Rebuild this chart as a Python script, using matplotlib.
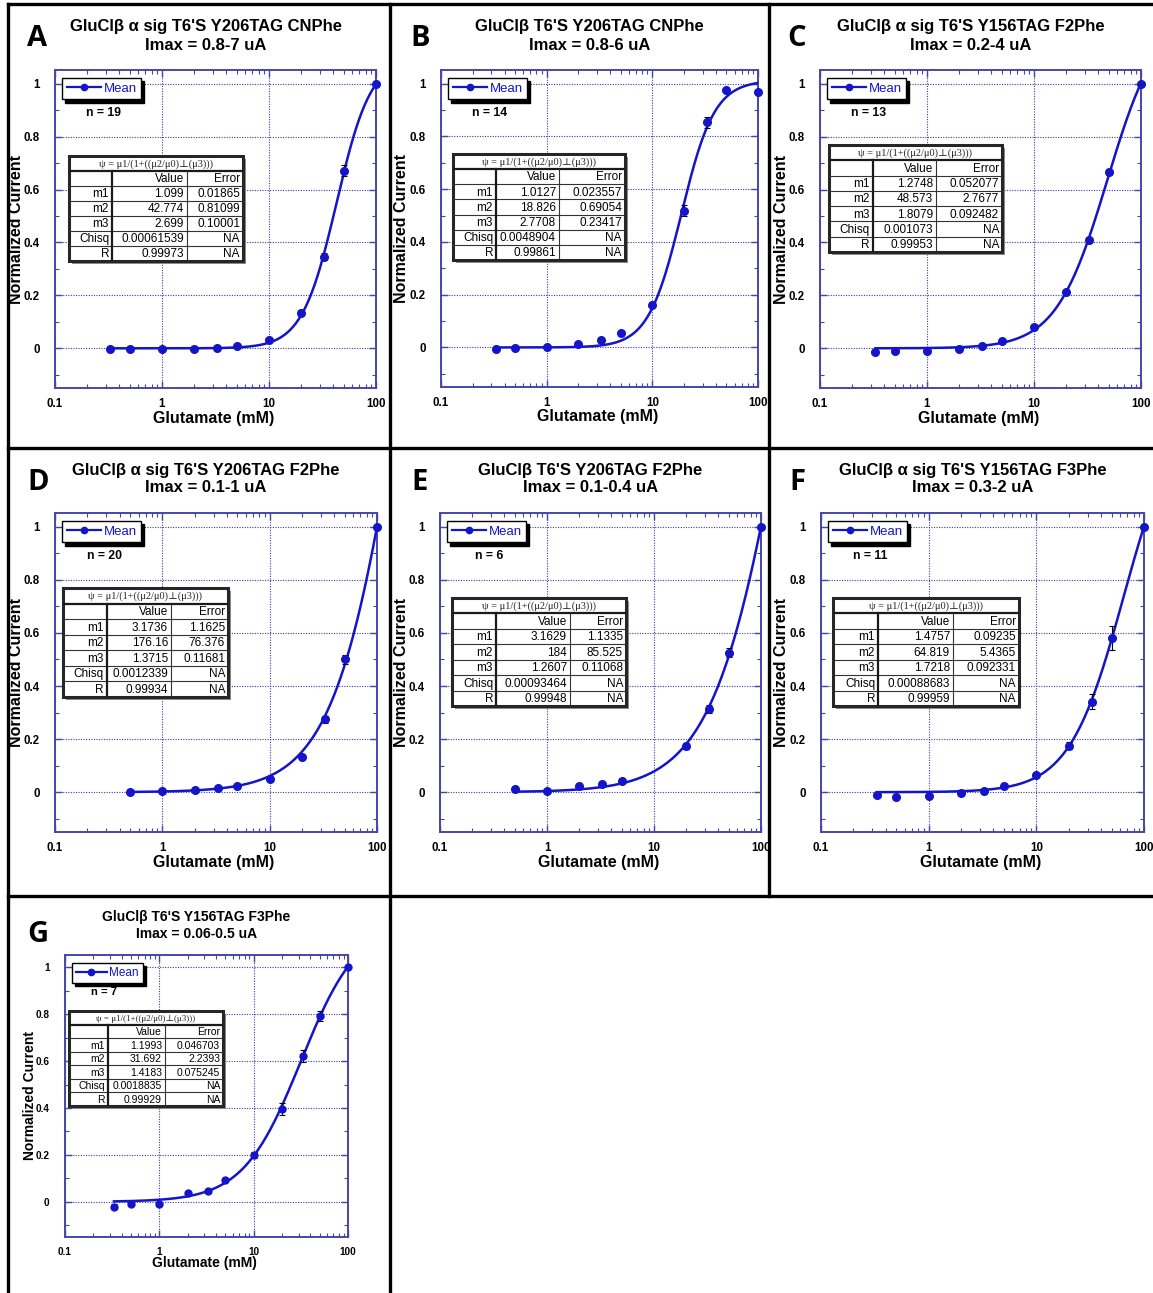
import numpy as np
import matplotlib.pyplot as plt
from matplotlib.lines import Line2D
from matplotlib.patches import Rectangle
from matplotlib.ticker import LogLocator, MultipleLocator, NullFormatter

W, H = 1153, 1293
BLUE = '#1414c8'
SPINE = '#4646aa'
GRID = '#3c3ca8'

# ---------------- data ----------------
row_names = ['m1', 'm2', 'm3', 'Chisq', 'R']

title_A = "GluClβ α sig T6'S Y206TAG CNPhe"
imax_A = "Imax = 0.8-7 uA"
n_A = 19
conc_A = [0.33, 0.5, 1, 2, 3.3, 5, 10, 20, 33, 50, 100]
resp_A = [-0.004, -0.004, -0.004, -0.001, 0.003, 0.009, 0.033, 0.135, 0.347, 0.672, 1.0]
err_A = [0.003, 0.003, 0.003, 0.003, 0.004, 0.005, 0.006, 0.01, 0.012, 0.022, 0.0]
val_A = ['1.099', '42.774', '2.699', '0.00061539', '0.99973']
errv_A = ['0.01865', '0.81099', '0.10001', 'NA', 'NA']

title_B = "GluClβ T6'S Y206TAG CNPhe"
imax_B = "Imax = 0.8-6 uA"
n_B = 14
conc_B = [0.33, 0.5, 1, 2, 3.3, 5, 10, 20, 33, 50, 100]
resp_B = [-0.005, -0.001, 0.003, 0.013, 0.030, 0.053, 0.162, 0.519, 0.853, 0.977, 0.969]
err_B = [0.003, 0.003, 0.003, 0.004, 0.004, 0.005, 0.01, 0.022, 0.02, 0.005, 0.005]
val_B = ['1.0127', '18.826', '2.7708', '0.0048904', '0.99861']
errv_B = ['0.023557', '0.69054', '0.23417', 'NA', 'NA']

title_C = "GluClβ α sig T6'S Y156TAG F2Phe"
imax_C = "Imax = 0.2-4 uA"
n_C = 13
conc_C = [0.33, 0.5, 1, 2, 3.3, 5, 10, 20, 33, 50, 100]
resp_C = [-0.013, -0.009, -0.009, -0.003, 0.010, 0.026, 0.079, 0.214, 0.410, 0.667, 1.0]
err_C = [0.004, 0.004, 0.004, 0.004, 0.004, 0.005, 0.006, 0.008, 0.012, 0.01, 0.0]
val_C = ['1.2748', '48.573', '1.8079', '0.001073', '0.99953']
errv_C = ['0.052077', '2.7677', '0.092482', 'NA', 'NA']

title_D = "GluClβ α sig T6'S Y206TAG F2Phe"
imax_D = "Imax = 0.1-1 uA"
n_D = 20
conc_D = [0.5, 1, 2, 3.3, 5, 10, 20, 33, 50, 100]
resp_D = [0.001, 0.003, 0.010, 0.015, 0.023, 0.049, 0.132, 0.274, 0.500, 1.0]
err_D = [0.002, 0.002, 0.003, 0.003, 0.004, 0.005, 0.008, 0.012, 0.018, 0.0]
val_D = ['3.1736', '176.16', '1.3715', '0.0012339', '0.99934']
errv_D = ['1.1625', '76.376', '0.11681', 'NA', 'NA']

title_E = "GluClβ T6'S Y206TAG F2Phe"
imax_E = "Imax = 0.1-0.4 uA"
n_E = 6
conc_E = [0.5, 1, 2, 3.3, 5, 20, 33, 50, 100]
resp_E = [0.013, 0.003, 0.023, 0.029, 0.041, 0.173, 0.315, 0.526, 1.0]
err_E = [0.006, 0.003, 0.005, 0.005, 0.006, 0.012, 0.015, 0.016, 0.0]
val_E = ['3.1629', '184', '1.2607', '0.00093464', '0.99948']
errv_E = ['1.1335', '85.525', '0.11068', 'NA', 'NA']

title_F = "GluClβ α sig T6'S Y156TAG F3Phe"
imax_F = "Imax = 0.3-2 uA"
n_F = 11
conc_F = [0.33, 0.5, 1, 2, 3.3, 5, 10, 20, 33, 50, 100]
resp_F = [-0.011, -0.019, -0.015, -0.004, 0.006, 0.023, 0.064, 0.175, 0.341, 0.582, 1.0]
err_F = [0.004, 0.004, 0.004, 0.004, 0.004, 0.005, 0.008, 0.014, 0.028, 0.045, 0.0]
val_F = ['1.4757', '64.819', '1.7218', '0.00088683', '0.99959']
errv_F = ['0.09235', '5.4365', '0.092331', 'NA', 'NA']

title_G = "GluClβ T6'S Y156TAG F3Phe"
imax_G = "Imax = 0.06-0.5 uA"
n_G = 7
conc_G = [0.33, 0.5, 1, 2, 3.3, 5, 10, 20, 33, 50, 100]
resp_G = [-0.020, -0.009, -0.011, 0.037, 0.044, 0.094, 0.200, 0.397, 0.621, 0.791, 1.0]
err_G = [0.01, 0.006, 0.006, 0.006, 0.006, 0.008, 0.012, 0.025, 0.025, 0.022, 0.0]
val_G = ['1.1993', '31.692', '1.4183', '0.0018835', '0.99929']
errv_G = ['0.046703', '2.2393', '0.075245', 'NA', 'NA']

# ---------------- layout (pixels) ----------------
# axes box: left, top, right, bottom
ax_box = {'A': (55, 70, 376, 388), 'B': (441, 70, 758, 387), 'C': (820, 70, 1141, 388),
          'D': (55, 513, 377, 832), 'E': (440, 513, 761, 832), 'F': (821, 513, 1144, 832),
          'G': (65, 955, 348, 1237)}
# table: left, top, width, height, column widths
tab_box = {'A': (69, 156, 174, 105, (43, 75, 56)), 'B': (453, 154, 172, 106, (43, 63, 66)),
           'C': (829, 145, 173, 107, (44, 63, 66)), 'D': (63, 588, 165, 109, (44, 64, 57)),
           'E': (452, 598, 174, 108, (44, 74, 56)), 'F': (833, 598, 186, 108, (45, 75, 66)),
           'G': (69, 1011, 154, 95, (39, 57, 58))}
letter_xy = {'A': (37, 38), 'B': (420, 38), 'C': (797, 38), 'D': (38, 482),
             'E': (420, 482), 'F': (797, 482), 'G': (38, 935)}
ylab_x = {'A': 17, 'B': 402, 'C': 782, 'D': 17, 'E': 402, 'F': 782, 'G': 30}

panels = [
    ('A', title_A, imax_A, n_A, conc_A, resp_A, err_A, val_A, errv_A),
    ('B', title_B, imax_B, n_B, conc_B, resp_B, err_B, val_B, errv_B),
    ('C', title_C, imax_C, n_C, conc_C, resp_C, err_C, val_C, errv_C),
    ('D', title_D, imax_D, n_D, conc_D, resp_D, err_D, val_D, errv_D),
    ('E', title_E, imax_E, n_E, conc_E, resp_E, err_E, val_E, errv_E),
    ('F', title_F, imax_F, n_F, conc_F, resp_F, err_F, val_F, errv_F),
    ('G', title_G, imax_G, n_G, conc_G, resp_G, err_G, val_G, errv_G),
]

SANS = ['Liberation Sans', 'DejaVu Sans']
SERIF = ['Liberation Serif', 'DejaVu Serif']

fig = plt.figure(figsize=(W / 100, H / 100), dpi=100)
fig.patch.set_facecolor('white')


def fx(x):
    return x / W


def fy(y):
    return 1 - y / H


def draw_table(l, t, w, h, cols, vals, errs, fs):
    tax = fig.add_axes([fx(l), fy(t + h), w / W, h / H])
    tax.set_xlim(0, w)
    tax.set_ylim(7, 0)
    tax.axis('off')
    # shadow + background
    tax.add_patch(Rectangle((2.5, 0.2), w, 7, facecolor='0.55', edgecolor='none',
                            clip_on=False, zorder=0))
    tax.add_patch(Rectangle((0, 0), w, 7, facecolor='white', edgecolor='0.15',
                            lw=2.2, clip_on=False, zorder=1))
    c1 = cols[0]
    c2 = cols[0] + cols[1]
    # grid lines
    tax.plot([0, w], [1, 1], color='0.1', lw=1.6, zorder=2)
    for r in range(2, 7):
        tax.plot([0, w], [r, r], color='0.2', lw=0.8, zorder=2)
    tax.plot([c1, c1], [1, 7], color='0.1', lw=1.6, zorder=2)
    tax.plot([c2, c2], [1, 7], color='0.2', lw=0.8, zorder=2)
    tax.text(w / 2, 0.55, 'ψ = μ1/(1+((μ2/μ0)⊥(μ3)))', ha='center', va='center',
             fontsize=fs - 1, family=SERIF, color='0.15', zorder=3)
    pad = 3
    tax.text(c2 - pad, 1.55, 'Value', ha='right', va='center', fontsize=fs, family=SANS, zorder=3)
    tax.text(w - pad, 1.55, 'Error', ha='right', va='center', fontsize=fs, family=SANS, zorder=3)
    for i, name in enumerate(row_names):
        yy = 2.55 + i
        tax.text(c1 - pad, yy, name, ha='right', va='center', fontsize=fs, family=SANS, zorder=3)
        tax.text(c2 - pad, yy, vals[i], ha='right', va='center', fontsize=fs, family=SANS, zorder=3)
        tax.text(w - pad, yy, errs[i], ha='right', va='center', fontsize=fs, family=SANS, zorder=3)


for key, title, imax, n, conc, resp, err, vals, errs in panels:
    small = key == 'G'
    f_title = 10 if small else 12
    f_lab = 10 if small else 11.5
    f_tick = 7.2 if small else 8.3
    f_leg = 8.5 if small else 9.5
    f_tab = 7.5 if small else 8.5
    f_n = 8 if small else 8.8

    l, t, r, b = ax_box[key]
    aw, ah = r - l, b - t
    ax = fig.add_axes([fx(l), fy(b), aw / W, ah / H])
    ax.set_xscale('log')
    ax.set_xlim(0.1, 100)
    ax.set_ylim(-0.15, 1.052)

    # fit curve from the table parameters
    m1, m2, m3 = float(vals[0]), float(vals[1]), float(vals[2])
    xs = np.logspace(np.log10(min(conc)), 2, 300)
    ax.plot(xs, m1 / (1 + (m2 / xs) ** m3), color=BLUE, lw=1.8, zorder=3)
    ax.errorbar(conc, resp, yerr=err, fmt='none', ecolor='k', elinewidth=0.8,
                capsize=2, capthick=0.8, zorder=4)
    ax.plot(conc, resp, 'o', color=BLUE, ms=5.5 if not small else 5, zorder=5, clip_on=False)

    ax.set_xticks([0.1, 1, 10, 100], ['0.1', '1', '10', '100'],
                  fontweight='bold', fontsize=f_tick, family=SANS)
    ax.xaxis.set_minor_locator(LogLocator(base=10, subs=np.arange(2, 10)))
    ax.xaxis.set_minor_formatter(NullFormatter())
    ax.set_yticks([0, 0.2, 0.4, 0.6, 0.8, 1], ['0', '0.2', '0.4', '0.6', '0.8', '1'],
                  fontweight='bold', fontsize=f_tick, family=SANS)
    ax.yaxis.set_minor_locator(MultipleLocator(0.1))
    ax.tick_params(which='both', direction='in', top=True, right=True, color=SPINE)
    ax.tick_params(which='major', length=5, width=1, pad=7)
    ax.tick_params(which='minor', length=3, width=0.8)
    ax.tick_params(axis='y', which='major', pad=11)
    ax.grid(True, which='major', color=GRID, lw=0.8, ls=(0, (1, 1.3)))
    for s in ax.spines.values():
        s.set_color(SPINE)
        s.set_linewidth(1.4)

    # legend
    handle = Line2D([], [], color=BLUE, marker='o', ms=4.5, lw=1.6)
    leg = ax.legend([handle], ['Mean'], loc='upper left',
                    bbox_to_anchor=(7 / aw, 1 - 8 / ah), borderaxespad=0,
                    frameon=True, fancybox=False, edgecolor='k', framealpha=1,
                    shadow={'ox': 2.2, 'oy': -2.2, 'color': 'k', 'alpha': 1},
                    handlelength=2.6, handletextpad=0.2, borderpad=0.35,
                    prop={'family': SANS, 'size': f_leg}, labelcolor=BLUE)
    leg.get_frame().set_linewidth(1.0)
    leg.set_zorder(10)

    ax.text((49 if not small else 39) / aw, 1 - (43 if not small else 37) / ah, 'n = %d' % n,
            transform=ax.transAxes, ha='center', va='center', fontsize=f_n,
            fontweight='bold', family=SANS)

    # titles and labels
    cx = (l + r) / 2 - 10
    fig.text(fx(cx), fy(t - (43 if not small else 38)), title, ha='center', va='center',
             fontsize=f_title, fontweight='bold', family=SANS)
    fig.text(fx(cx), fy(t - (25 if not small else 21)), imax, ha='center', va='center',
             fontsize=f_title, fontweight='bold', family=SANS)
    lx, ly = letter_xy[key]
    fig.text(fx(lx), fy(ly), key, ha='center', va='center', fontsize=21,
             fontweight='bold', family=['Open Sans', 'DejaVu Sans'])
    fig.text(fx(ylab_x[key]), fy((t + b) / 2), 'Normalized Current', rotation=90,
             ha='center', va='center', fontsize=f_lab, fontweight='bold', family=SANS)
    fig.text(fx((l + r) / 2 - 2), fy(b + (30 if not small else 26)), 'Glutamate (mM)',
             ha='center', va='center', fontsize=f_lab, fontweight='bold', family=SANS)

    tl, tt, tw, th, cols = tab_box[key]
    draw_table(tl, tt, tw, th, cols, vals, errs, f_tab)

# cell borders
borders = [((8, 4), (1153, 4)), ((8, 448), (1153, 448)), ((8, 896), (1153, 896)),
           ((8, 4), (8, 1293)), ((390, 4), (390, 1293)), ((769, 4), (769, 896))]
for (x0, y0), (x1, y1) in borders:
    fig.add_artist(Line2D([fx(x0), fx(x1)], [fy(y0), fy(y1)], color='k', lw=2.4))

fig.savefig('out.png', dpi=100, facecolor='white')
